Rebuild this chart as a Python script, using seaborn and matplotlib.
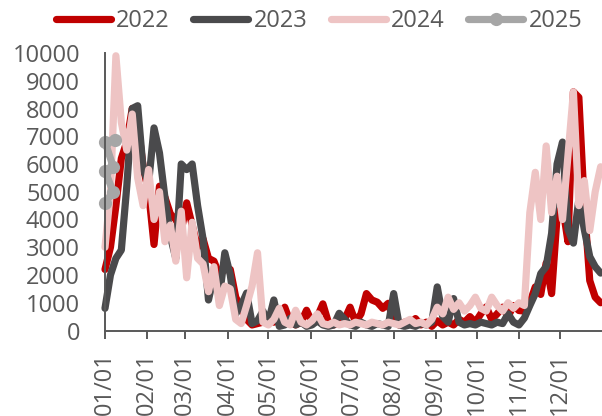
import numpy as np
import pandas as pd
import matplotlib
matplotlib.use("Agg")
import matplotlib.pyplot as plt
import matplotlib.dates as mdates
import seaborn as sns

# ---------------- data ----------------
# sampling day offsets (from Jan 1) for the three full-year series
day_offsets = list(range(0, 365, 4))

values_2022 = [
    2200, 3000, 4500, 6200, 6800, 8000, 7500, 5900, 5000, 3100,
    5200, 4800, 4200, 4000, 3600, 4600, 3800, 3000, 3300, 2600,
    2500, 2000, 2200, 2200, 1200, 800, 400, 200, 250, 300,
    500, 300, 400, 840, 300, 200, 300, 730, 300, 500,
    960, 300, 200, 300, 400, 840, 300, 600, 1330, 1100,
    1020, 800, 980, 360, 200, 300, 250, 430, 200, 300,
    150, 350, 200, 300, 200, 400, 300, 500, 300, 600,
    850, 400, 600, 840, 500, 900, 720, 700, 1000, 1570,
    1300, 2430, 1330, 4100, 4500, 3200, 8600, 8400, 4500, 1800,
    1200, 1000,
]

values_2023 = [
    800, 2000, 2600, 2900, 5200, 8000, 8100, 5800, 5300, 7300,
    6400, 4800, 3400, 2600, 6000, 5800, 6000, 4500, 3300, 1100,
    2000, 1200, 2800, 2000, 600, 900, 1350, 250, 350, 700,
    300, 1100, 150, 200, 440, 200, 300, 150, 200, 350,
    200, 150, 200, 620, 400, 200, 150, 300, 200, 150,
    250, 200, 150, 1330, 200, 150, 200, 150, 250, 200,
    300, 1570, 500, 300, 1150, 300, 200, 250, 200, 300,
    250, 200, 300, 250, 600, 300, 200, 450, 900, 1330,
    2050, 2300, 3500, 6000, 6790, 3640, 3150, 4730, 3640, 2660,
    2300, 2070,
]

values_2024 = [
    3000, 5000, 9900, 7500, 6500, 7800, 5500, 4500, 5800, 4000,
    5000, 3200, 3800, 2500, 4300, 1900, 3900, 2600, 2400, 1400,
    2300, 900, 1600, 1500, 400, 250, 900, 1600, 2800, 300,
    200, 400, 800, 300, 200, 730, 300, 200, 350, 600,
    250, 200, 300, 200, 250, 200, 300, 250, 200, 300,
    250, 200, 300, 250, 200, 300, 400, 250, 300, 200,
    400, 840, 600, 1200, 760, 1000, 700, 900, 1200, 800,
    700, 1200, 900, 700, 1000, 800, 1000, 900, 4250, 5700,
    4000, 6650, 4250, 5560, 4000, 6300, 8600, 4500, 5400, 3600,
    5000, 5900,
]

day_offsets_2025 = [0, 6, 0, 6, 0, 7]
values_2025 = [4600, 5000, 5750, 5900, 6800, 6850]

series_names = ["2022", "2023", "2024", "2025"]
series_colors = ["#C00000", "#4A4A4C", "#EEC4C4", "#A6A6A6"]

y_ticks = list(range(0, 10001, 1000))
month_tick_labels = ["01/01", "02/01", "03/01", "04/01", "05/01", "06/01",
                     "07/01", "08/01", "09/01", "10/01", "11/01", "12/01"]

# ---------------- build frames ----------------
base = pd.Timestamp("2022-01-01")
dates_full = base + pd.to_timedelta(day_offsets, unit="D")
dates_2025 = base + pd.to_timedelta(day_offsets_2025, unit="D")

frames = {
    "2022": pd.DataFrame({"date": dates_full, "value": values_2022}),
    "2023": pd.DataFrame({"date": dates_full, "value": values_2023}),
    "2024": pd.DataFrame({"date": dates_full, "value": values_2024}),
    "2025": pd.DataFrame({"date": dates_2025, "value": values_2025}),
}

# ---------------- style ----------------
sns.set_style("white")
plt.rcParams["font.family"] = ["Open Sans", "DejaVu Sans"]
text_color = "#595959"

fig = plt.figure(figsize=(6.02, 4.16), dpi=100)
ax = fig.add_axes([105 / 602, 1 - 330.5 / 416, 497 / 602, (330.5 - 53) / 416])

lw = 5.2
for name, color in zip(series_names, series_colors):
    df = frames[name]
    kw = dict(marker="o", markersize=9.5, markeredgewidth=0) if name == "2025" else {}
    sns.lineplot(
        data=df, x="date", y="value", ax=ax, color=color, linewidth=lw,
        estimator=None, sort=False, label=name, legend=False,
        solid_capstyle="round", solid_joinstyle="round", clip_on=False, **kw,
    )

ax.set_xlim(base, base + pd.Timedelta(days=365))
ax.set_ylim(0, 10000)
ax.set_yticks(y_ticks)
ax.set_yticklabels([str(v) for v in y_ticks])
month_starts = pd.date_range("2022-01-01", periods=12, freq="MS")
ax.set_xticks(month_starts)
ax.set_xticklabels(month_tick_labels, rotation=90)
ax.set_xlabel("")
ax.set_ylabel("")

for s in ["top", "right"]:
    ax.spines[s].set_visible(False)
for s in ["left", "bottom"]:
    ax.spines[s].set_color(text_color)
    ax.spines[s].set_linewidth(1.4)

ax.tick_params(axis="y", length=0, pad=18, labelsize=17, colors=text_color)
ax.tick_params(axis="x", length=5.5, width=1.4, pad=10, labelsize=17,
               colors=text_color, direction="out", bottom=True)

handles, labels = ax.get_legend_handles_labels()
leg = fig.legend(
    handles, labels, loc="center", bbox_to_anchor=(319 / 602, 1 - 21 / 416),
    ncol=4, frameon=False, fontsize=17, handlelength=2.33,
    handletextpad=0.22, columnspacing=1.0, borderaxespad=0,
)
for t in leg.get_texts():
    t.set_color(text_color)

fig.savefig("out.png", dpi=100)
